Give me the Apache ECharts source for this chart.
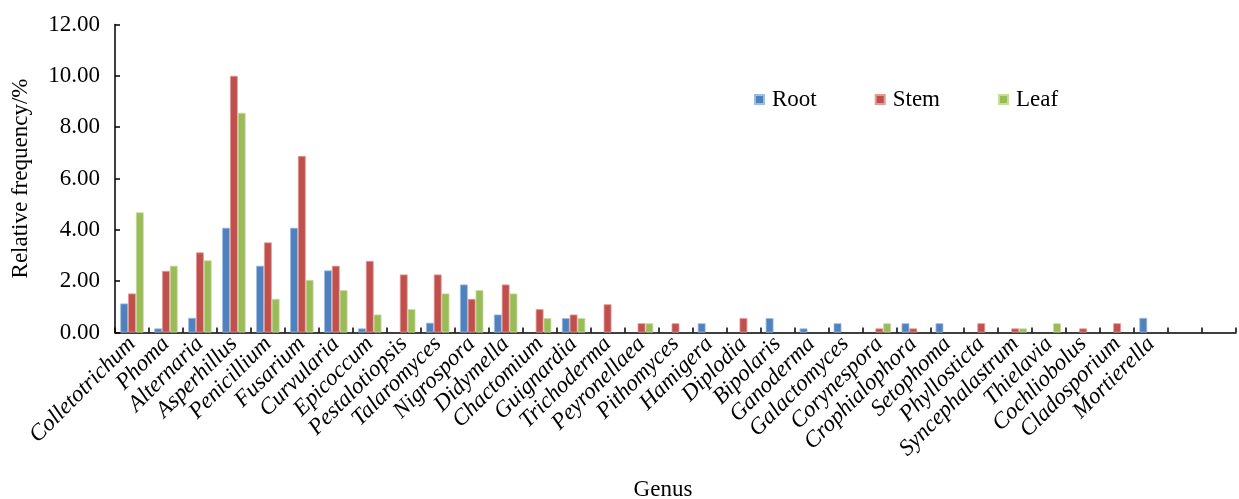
<!DOCTYPE html>
<html>
<head>
<meta charset="utf-8">
<script src="https://cdn.jsdelivr.net/npm/echarts@6/dist/echarts.min.js"></script>
<style>
html,body{margin:0;padding:0;background:#fff;}
#chart{width:1239px;height:499px;}
</style>
</head>
<body>
<div id="chart"></div>
<script>
const categories = ['Colletotrichum','Phoma','Alternaria','Asperhillus','Penicillium','Fusarium','Curvularia','Epicoccum','Pestalotiopsis','Talaromyces','Nigrospora','Didymella','Chactomium','Guignardia','Trichoderma','Peyronellaea','Pithomyces','Hamigera','Diplodia','Bipolaris','Ganoderma','Galactomyces','Corynespora','Crophialophora','Setophoma','Phyllosticta','Syncephalastrum','Thielavia','Cochliobolus','Cladosporium','Mortierella','',''];
const rootValues = [1.13,0.16,0.57,4.08,2.60,4.08,2.42,0.16,0,0.38,1.87,0.70,0,0.56,0,0,0,0.36,0,0.56,0.16,0.36,0,0.36,0.36,0,0,0,0,0,0.57,0,0];
const stemValues = [1.52,2.40,3.12,10.00,3.51,6.88,2.60,2.79,2.26,2.26,1.31,1.87,0.91,0.70,1.10,0.36,0.36,0,0.56,0,0,0,0.16,0.16,0,0.36,0.16,0,0.16,0.36,0,0,0];
const leafValues = [4.68,2.60,2.81,8.56,1.31,2.05,1.65,0.70,0.91,1.52,1.65,1.52,0.56,0.56,0,0.36,0,0,0,0,0,0,0.36,0,0,0,0.16,0.36,0,0,0,0,0];
const seriesNames = ['Root','Stem','Leaf'];
const yTicks = {min:0, max:12, interval:2};

const font = '"Liberation Serif","Times New Roman",serif';
const chart = echarts.init(document.getElementById('chart'));
const colors = ['#4F81BD','#C0504D','#9BBB59'];
const borders = ['#9dbde3','#e39a98','#c6dca0'];
const data = [rootValues, stemValues, leafValues];
chart.setOption({
  animation:false,
  color: colors,
  textStyle:{fontFamily:font},
  grid:{left:115, right:3, top:24.5, bottom:166.5, containLabel:false, outerBoundsMode:'none'},
  legend:{
    left:749, top:83, itemWidth:9, itemHeight:9, itemGap:58,
    icon:'rect',
    textStyle:{fontFamily:font, fontSize:23, color:'#000', padding:[0,0,0,3]},
    data: seriesNames
  },
  xAxis:{
    type:'category',
    data: categories,
    name:'Genus',
    nameLocation:'middle',
    nameGap:146,
    nameTextStyle:{fontFamily:font, fontSize:23, color:'#000', padding:[0,25,0,0]},
    axisLine:{lineStyle:{color:'#000', width:1.5}},
    axisTick:{show:true, inside:true, length:5, alignWithLabel:false, lineStyle:{color:'#000', width:1.5}},
    axisLabel:{rotate:45, margin:8, interval:0, fontFamily:font, fontStyle:'italic', fontSize:23, color:'#000'}
  },
  yAxis:{
    type:'value',
    min:yTicks.min, max:yTicks.max, interval:yTicks.interval,
    name:'Relative frequency/%',
    nameLocation:'middle',
    nameGap:83,
    nameTextStyle:{fontFamily:font, fontSize:23, color:'#000'},
    splitLine:{show:false},
    axisLine:{show:true, lineStyle:{color:'#000', width:1.5}},
    axisTick:{show:true, inside:true, length:5, lineStyle:{color:'#000', width:1.5}},
    axisLabel:{margin:15, fontFamily:font, fontSize:23, color:'#000', formatter:v=>v.toFixed(2)}
  },
  series: seriesNames.map((n,i)=>({
    name:n, type:'bar', data:data[i].map(v=>v===0?null:v),
    barGap:'0%', barCategoryGap:'31%',
    itemStyle:{color:colors[i], borderColor:borders[i], borderWidth:0.8}
  }))
});
</script>
</body>
</html>
